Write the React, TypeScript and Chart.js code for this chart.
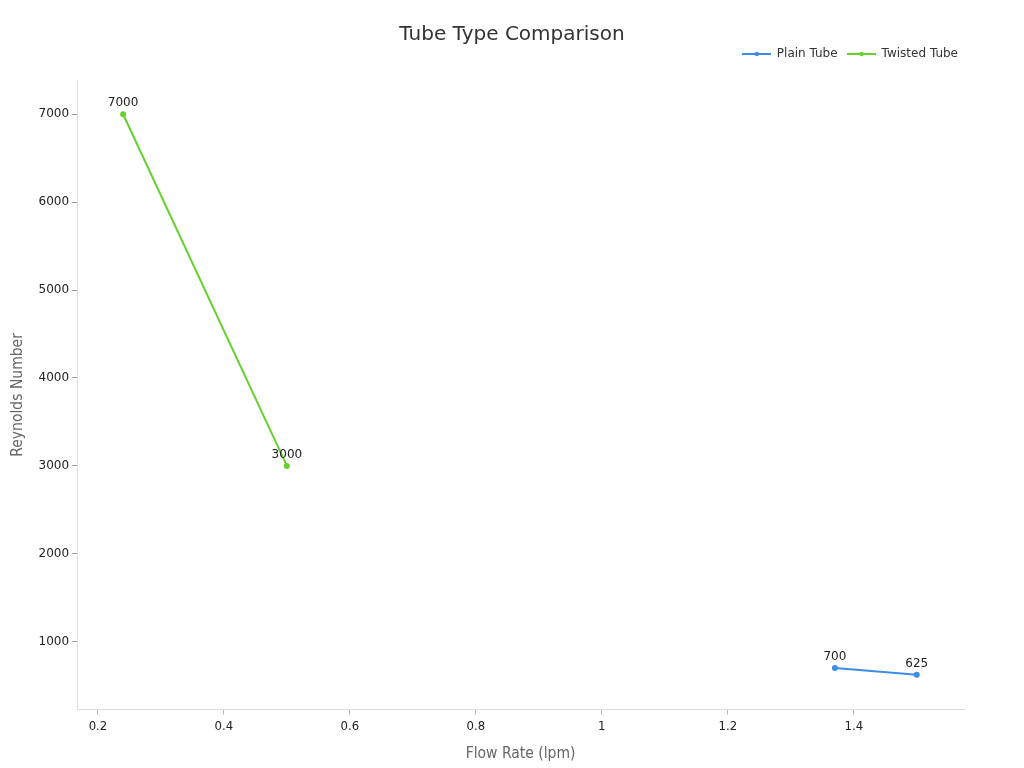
import React, { useEffect, useRef } from "react";
import { Chart, registerables } from "chart.js";

Chart.register(...registerables);

const plainFlow = [1.37, 1.5];
const plainRe = [700, 625];
const twistedFlow = [0.24, 0.5];
const twistedRe = [7000, 3000];
const seriesNames = ["Plain Tube", "Twisted Tube"];
const seriesColors = ["#3a8ee6", "#66d12e"];
const xTicks = [0.2, 0.4, 0.6, 0.8, 1, 1.2, 1.4];
const yTicks = [1000, 2000, 3000, 4000, 5000, 6000, 7000];
const chartTitle = "Tube Type Comparison";

const condensed = "'DejaVu Sans Condensed', 'DejaVu Sans'";

function legendIcon(color: string) {
  const c = document.createElement("canvas");
  c.width = 29;
  c.height = 8;
  const ctx = c.getContext("2d")!;
  ctx.strokeStyle = color;
  ctx.lineWidth = 2;
  ctx.beginPath();
  ctx.moveTo(0, 4);
  ctx.lineTo(29, 4);
  ctx.stroke();
  ctx.fillStyle = color;
  ctx.beginPath();
  ctx.arc(14.5, 4, 2.2, 0, Math.PI * 2);
  ctx.fill();
  return c;
}

const labelPlugin = {
  id: "valueLabels",
  beforeInit(chart: any) {
    const lg = chart.legend;
    if (lg) {
      const orig = lg.fit;
      lg.fit = function () {
        orig.call(this);
        this.height += 11;
      };
    }
  },
  afterLayout(chart: any) {
    const lg = chart.legend;
    if (lg) {
      lg.left += 4;
      lg.right += 4;
      lg.top += 1;
    }
  },
  afterDraw(chart: any) {
    const ctx = chart.ctx;
    ctx.save();
    ctx.font = "20px 'DejaVu Sans'";
    ctx.fillStyle = "#333";
    ctx.textAlign = "center";
    ctx.textBaseline = "middle";
    ctx.fillText(chartTitle, 512, 35);
    ctx.restore();
  },
  afterDatasetsDraw(chart: any) {
    const ctx = chart.ctx;
    ctx.save();
    ctx.font = "12px 'DejaVu Sans'";
    ctx.fillStyle = "#222";
    ctx.textAlign = "center";
    ctx.textBaseline = "bottom";
    chart.data.datasets.forEach((ds: any, i: number) => {
      const meta = chart.getDatasetMeta(i);
      meta.data.forEach((pt: any, j: number) => {
        ctx.fillText(String(ds.data[j].y), pt.x, pt.y - 5);
      });
    });
    ctx.restore();
  },
};

export default function App() {
  const ref = useRef<HTMLCanvasElement>(null);
  useEffect(() => {
    document.body.style.margin = "0";
    const chart = new Chart(ref.current!, {
      type: "line",
      data: {
        datasets: [
          {
            label: seriesNames[0],
            data: plainFlow.map((x, i) => ({ x, y: plainRe[i] })),
            borderColor: seriesColors[0],
            backgroundColor: seriesColors[0],
            borderWidth: 2,
            pointRadius: 2,
            pointStyle: "circle",
          },
          {
            label: seriesNames[1],
            data: twistedFlow.map((x, i) => ({ x, y: twistedRe[i] })),
            borderColor: seriesColors[1],
            backgroundColor: seriesColors[1],
            borderWidth: 2,
            pointRadius: 2,
            pointStyle: "circle",
          },
        ],
      },
      options: {
        animation: false,
        responsive: false,
        maintainAspectRatio: false,
        layout: { padding: { left: 9, right: 60, top: 37, bottom: 5 } },
        plugins: {
          title: { display: false },
          legend: {
            display: true,
            align: "end",
            labels: {
              usePointStyle: true,
              pointStyleWidth: 28,
              boxHeight: 8,
              color: "#333",
              font: { family: "'DejaVu Sans'", size: 12 },
              padding: 10,
              generateLabels: (chart: any) =>
                chart.data.datasets.map((ds: any, i: number) => ({
                  text: ds.label,
                  fillStyle: ds.borderColor,
                  strokeStyle: ds.borderColor,
                  pointStyle: legendIcon(ds.borderColor),
                  datasetIndex: i,
                  hidden: false,
                  lineWidth: 0,
                  fontColor: "#333",
                })),
            },
          },
          tooltip: { enabled: false },
        },
        scales: {
          x: {
            type: "linear",
            min: 0.167,
            max: 1.575,
            afterBuildTicks: (axis: any) => {
              axis.ticks = xTicks.map((v) => ({ value: v }));
            },
            ticks: {
              color: "#222",
              font: { family: condensed, size: 13 },
              padding: 4,
              callback: (v: any) => String(Math.round(Number(v) * 10) / 10),
              maxRotation: 0,
            },
            grid: { display: true, drawOnChartArea: false, tickLength: 5, color: "#bbb" },
            border: { color: "#ddd" },
            title: {
              display: true,
              text: "Flow Rate (lpm)",
              color: "#666",
              font: { family: condensed, size: 15.5 },
              padding: { top: 6, bottom: 0 },
            },
          },
          y: {
            type: "linear",
            min: 225,
            max: 7390,
            afterBuildTicks: (axis: any) => {
              axis.ticks = yTicks.map((v) => ({ value: v }));
            },
            ticks: {
              color: "#222",
              font: { family: "'DejaVu Sans'", size: 12 },
              padding: 3,
              callback: (v: any) => String(v),
            },
            grid: { display: true, drawOnChartArea: false, tickLength: 5, color: "#999" },
            border: { color: "#ddd" },
            title: {
              display: true,
              text: "Reynolds Number",
              color: "#666",
              font: { family: condensed, size: 15.5 },
              padding: { top: 0, bottom: 8 },
            },
          },
        },
      },
      plugins: [labelPlugin],
    });
    return () => chart.destroy();
  }, []);
  return (
    <div style={{ position: "absolute", left: 0, top: 0, width: 1024, height: 768 }}>
      <canvas ref={ref} width={1024} height={768} />
    </div>
  );
}
